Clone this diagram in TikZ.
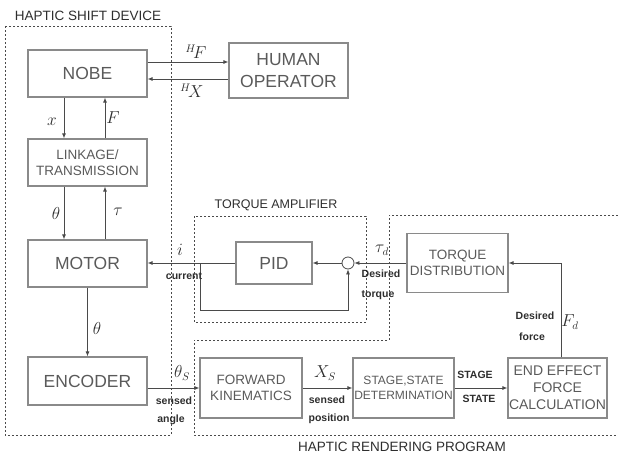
\documentclass[tikz,border=0pt]{standalone}
\usepackage{fontspec}
\setmainfont{Liberation Sans}
\usetikzlibrary{arrows.meta}

\definecolor{boxline}{HTML}{8A8A8A}
\definecolor{boxtext}{HTML}{5A5A5A}
\definecolor{wire}{HTML}{4A4A4A}
\definecolor{title}{HTML}{2E2E2E}

\begin{document}
\begin{tikzpicture}[x=1pt, y=-1pt,
    blk/.style={draw=boxline, line width=1.2pt, rectangle, align=center, text=boxtext, inner sep=1pt},
    bigtxt/.style={font=\fontsize{17.5}{22}\selectfont},
    midtxt/.style={font=\fontsize{13.5}{16.5}\selectfont},
    grp/.style={draw=wire, dashed, dash pattern=on 2pt off 2pt, line width=0.7pt},
    ttl/.style={text=title, font=\fontsize{13.5}{16}\selectfont, inner sep=0},
    lbl/.style={text=title, font=\fontsize{10.5}{12}\selectfont\bfseries, inner sep=0},
    sym/.style={text=title, font=\fontsize{16}{18}\selectfont, inner sep=0},
    ->, >={Latex[length=5pt, width=4pt]}]

    \useasboundingbox (0,0) rectangle (618,458);

    % Group boxes
    \draw[grp, -] (5,26) rectangle (171,435);
    \draw[grp, -] (194,216) rectangle (366,322);
    \draw[grp, -] (618,215) -- (389,215) -- (389,340) -- (194,340) -- (194,435) -- (618,435);

    \node[ttl] (hsdtitle) at (88,16) {HAPTIC SHIFT DEVICE};
    \node[ttl, font=\fontsize{12.5}{15}\selectfont] (tatitle) at (276,205) {TORQUE AMPLIFIER};
    \node[ttl] (hrptitle) at (402,447) {HAPTIC RENDERING PROGRAM};

    % Haptic shift device
    \node[blk, bigtxt, minimum width=119pt, minimum height=47pt] (nobe) at (87.5,73.5) {NOBE};
    \node[blk, midtxt, minimum width=119pt, minimum height=47pt] (link) at (87.5,162.5) {LINKAGE/\\TRANSMISSION};
    \node[blk, bigtxt, minimum width=119pt, minimum height=47pt] (motor) at (87.5,263.5) {MOTOR};
    \node[blk, bigtxt, minimum width=119pt, minimum height=48pt] (enc) at (87.5,381) {ENCODER};

    % Human operator
    \node[blk, bigtxt, minimum width=119pt, minimum height=55pt] (ho) at (288.5,70.5) {HUMAN\\OPERATOR};

    % Torque amplifier
    \node[blk, bigtxt, minimum width=76pt, minimum height=42pt] (pid) at (274,263) {PID};
    \node[draw=wire, line width=0.8pt, circle, minimum size=12pt, inner sep=0] (sum) at (348,263) {};
    \coordinate (tap) at (200,263);

    % Haptic rendering program
    \node[blk, midtxt, minimum width=101pt, minimum height=59pt] (td) at (457.5,263) {TORQUE\\DISTRIBUTION};
    \node[blk, midtxt, minimum width=102pt, minimum height=60pt] (fk) at (251,388) {FORWARD\\KINEMATICS};
    \node[blk, midtxt, font=\fontsize{12}{15}\selectfont, minimum width=101pt, minimum height=60pt] (ssd) at (403.5,388) {STAGE,STATE\\DETERMINATION};
    \node[blk, midtxt, font=\fontsize{14}{17}\selectfont, minimum width=99pt, minimum height=60pt] (eefc) at (557.5,388) {END EFFECT\\FORCE\\CALCULATION};

    % Connections
    \draw[wire, thick] ([yshift=11.5pt]nobe.east) -- ([yshift=11.5pt]nobe.east -| ho.west);
    \draw[wire, thick] ([yshift=-5.5pt]nobe.east -| ho.west) -- ([yshift=-5.5pt]nobe.east);
    \draw[wire, thick] ([xshift=-23.5pt]nobe.south) -- ([xshift=-23.5pt]link.north);
    \draw[wire, thick] ([xshift=17.5pt]link.north) -- ([xshift=17.5pt]nobe.south);
    \draw[wire, thick] ([xshift=-23.5pt]link.south) -- ([xshift=-23.5pt]motor.north);
    \draw[wire, thick] ([xshift=17.5pt]motor.north) -- ([xshift=17.5pt]link.south);
    \draw[wire, thick] (motor.south) -- (enc.north);
    \draw[wire, thick] (pid.west) -- (pid.west -| motor.east);
    \draw[wire, thick] (tap) -- (200,310) -| (sum.south);
    \draw[wire, thick] (sum.west) -- (pid.east);
    \draw[wire, thick] (td.west) -- (sum.east);
    \draw[wire, thick] (enc.east |- fk.west) -- (fk.west);
    \draw[wire, thick] (fk.east) -- (ssd.west);
    \draw[wire, thick] (ssd.east) -- (eefc.west);
    \draw[wire, thick] ([xshift=3.5pt]eefc.north) |- (td.east);

    % Signal labels
    \node[sym] (hf) at (196,52) {$^{H}\!F$};
    \node[sym] (hx) at (192,91) {$^{H}\!X$};
    \node[sym] (xl) at (52,122) {$x$};
    \node[sym] (fl) at (113,118) {$F$};
    \node[sym] (th1) at (56,213) {$\theta$};
    \node[sym] (tau) at (118,212) {$\tau$};
    \node[sym] (th2) at (97,328) {$\theta$};
    \node[sym] (il) at (180,250) {$i$};
    \node[lbl] (curl) at (184,276) {current};
    \node[sym] (taud) at (382,250) {$\tau_d$};
    \node[lbl] (dtq1) at (381,274) {Desired};
    \node[lbl] (dtq2) at (378,295) {torque};
    \node[lbl] (dfc1) at (535,316) {Desired};
    \node[lbl] (dfc2) at (532,337) {force};
    \node[sym] (fd) at (570,322) {$F_d$};
    \node[sym] (ths) at (182,373) {$\theta_S$};
    \node[lbl] (sa1) at (174,401) {sensed};
    \node[lbl] (sa2) at (171,420) {angle};
    \node[sym] (xs) at (325,373) {$X_S$};
    \node[lbl] (sp1) at (327,400) {sensed};
    \node[lbl] (sp2) at (329,419) {position};
    \node[lbl] (stg) at (475,375) {STAGE};
    \node[lbl] (stt) at (479,399) {STATE};
\end{tikzpicture}
\end{document}
